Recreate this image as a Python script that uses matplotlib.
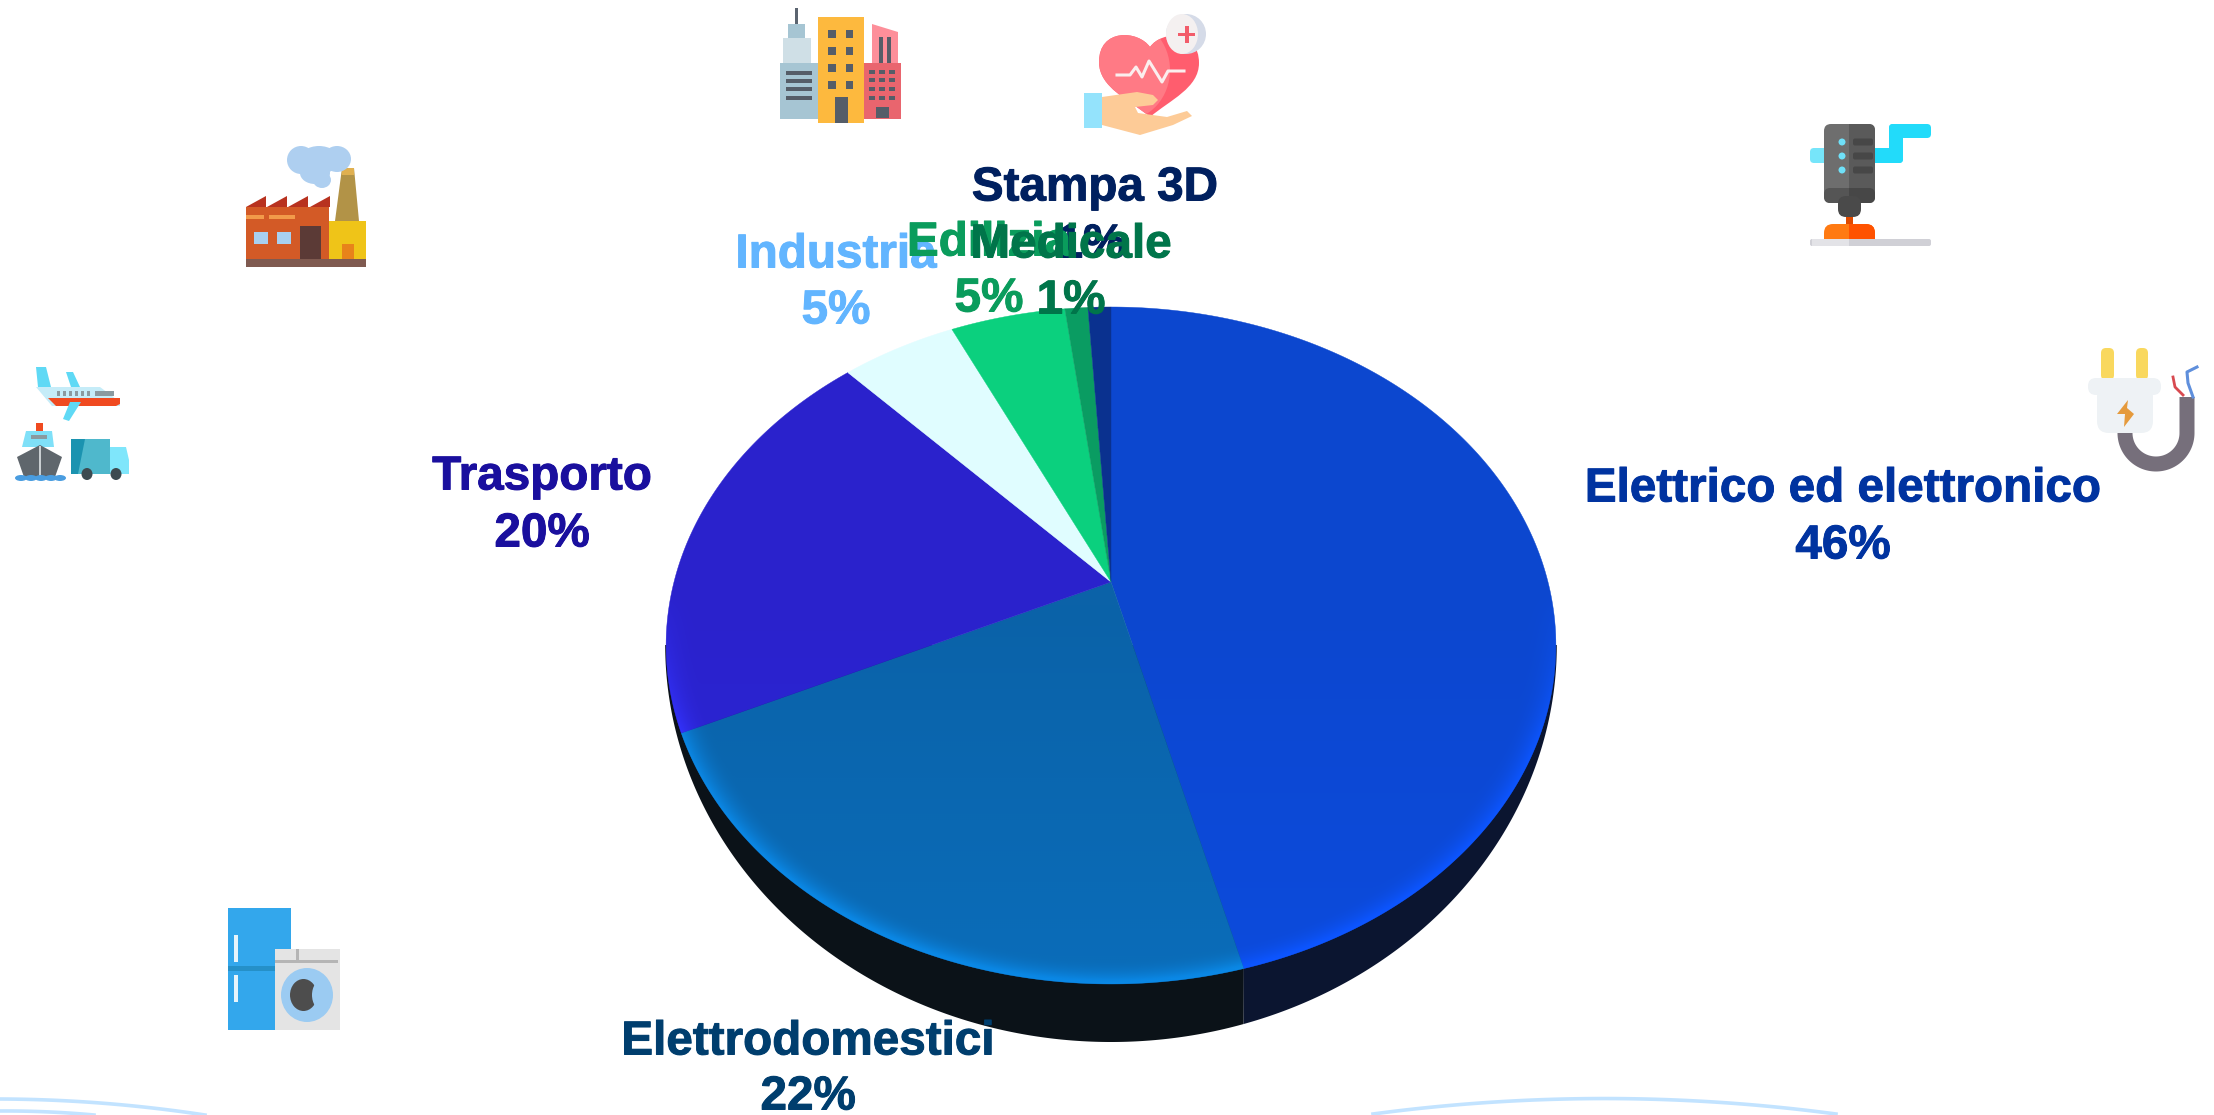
import numpy as np
import matplotlib
matplotlib.use("Agg")
import matplotlib.pyplot as plt
import matplotlib.patheffects as pe
from matplotlib.patches import Polygon, Ellipse, Rectangle, FancyBboxPatch, PathPatch
from matplotlib.path import Path

# data
labels = ["Elettrico ed elettronico", "Elettrodomestici", "Trasporto", "Industria", "Edilizia", "Medicale", "Stampa 3D"]
shares = [46, 22, 20, 5, 5, 1, 1]
slice_colors = ["#0c47cf", "#0b62a8", "#2a22cc", "#e0fdff", "#0bd07e", "#0a9c62", "#0a318f"]
rim_colors = ["#0d55ff", "#0a88e6", "#3333ff", "#e0fdff", "#0bd07e", "#0a9c62", "#0a318f"]
text_colors = ["#0033a0", "#003e6e", "#1a0f9e", "#62b5ff", "#0a9c5c", "#00754a", "#00205f"]

# label anchors, pixels
label_x = [1843, 808, 542, 836, 989, 1071, 1095]
label_y = [484, 1037, 472, 250, 238, 240, 183]
pct_x = [1843, 808, 542, 836, 989, 1071, 1091]
pct_y = [541, 1092, 529, 306, 294, 296, 240]
text_order = [0, 1, 2, 6, 3, 4, 5]

W, H = 2214, 1115
fig = plt.figure(figsize=(W / 100, H / 100), dpi=100)
ax = fig.add_axes([0, 0, 1, 1])
ax.set_xlim(0, W)
ax.set_ylim(H, 0)
ax.axis("off")

# pie geometry: a tilted disc, apex is not at the centre of the ellipse
apex_x, apex_y = 1111, 582
ell_y, ell_a, ell_b = 645, 445, 338
k = 0.1876
c_y = 326.6
c_x = 437.0


def project(u, v):
    w = 1 + k * v
    return apex_x + c_x * u / w, apex_y - c_y * v / w


def wedge_xy(start, stop):
    t = np.linspace(start, stop, 200) * 2 * np.pi
    x, y = project(np.sin(t), np.cos(t))
    return np.column_stack([np.r_[apex_x, x], np.r_[apex_y, y]])


fracs = np.array(shares) / sum(shares)
edges = np.r_[0, np.cumsum(fracs)]

# side wall, split under the edge of the first slice
split_x = project(np.sin(edges[1] * 2 * np.pi), np.cos(edges[1] * 2 * np.pi))[0]
t = np.linspace(0, np.pi, 600)
wall_x = apex_x + 445.8 * np.cos(t)
wall_y = ell_y + 397 * np.sin(t)
right = wall_x >= split_x - 2
left = wall_x <= split_x
ax.fill(np.r_[wall_x[right], split_x - 2, apex_x + 445.8], np.r_[wall_y[right], ell_y, ell_y], color="#0b1530", lw=0, zorder=1)
ax.fill(np.r_[split_x, wall_x[left]], np.r_[ell_y, wall_y[left]], color="#0b1218", lw=0, zorder=1)

# shading on the face
gx, gy = np.meshgrid(np.arange(apex_x - 450, apex_x + 451, 2.0), np.arange(ell_y - 345, ell_y + 345, 2.0))
rho = np.sqrt(((gx - apex_x) / ell_a) ** 2 + ((gy - ell_y) / ell_b) ** 2)
rim = 0.85 * np.clip((rho - 0.93) / 0.07, 0, 1) ** 2 * np.clip((gy - 590) / 150, 0, 1)
soft = 0.3 * np.clip((gy - 600) / 400, 0, 1)
shade = np.clip(rim + soft, 0, 1)
extent = [gx.min() - 1, gx.max() + 1, gy.max() + 1, gy.min() - 1]

for i in range(len(shares)):
    wedge = Polygon(wedge_xy(edges[i], edges[i + 1]), closed=True, facecolor=slice_colors[i], edgecolor=slice_colors[i], lw=0.3, zorder=2)
    ax.add_patch(wedge)
    rgba = np.zeros(gx.shape + (4,))
    rgba[..., :3] = matplotlib.colors.to_rgb(rim_colors[i])
    rgba[..., 3] = shade
    im = ax.imshow(rgba, extent=extent, aspect="auto", zorder=3, interpolation="bilinear")
    im.set_clip_path(wedge)
ax.set_xlim(0, W)
ax.set_ylim(H, 0)

# labels
for i in text_order:
    bold = [pe.withStroke(linewidth=0.7, foreground=text_colors[i])]
    ax.text(label_x[i], label_y[i], labels[i], color=text_colors[i], family="Liberation Sans", weight="bold",
            fontsize=34.3, ha="center", va="center_baseline", zorder=6, path_effects=bold)
    ax.text(pct_x[i], pct_y[i], f"{shares[i]}%", color=text_colors[i], family="Liberation Sans", weight="bold",
            fontsize=34.3, ha="center", va="center_baseline", zorder=6, path_effects=bold)


# icon helpers
def rect(x0, y0, x1, y1, col):
    ax.add_patch(Rectangle((x0, y0), x1 - x0, y1 - y0, facecolor=col, lw=0, zorder=4))


def poly(pts, col):
    ax.add_patch(Polygon(pts, closed=True, facecolor=col, lw=0, zorder=4))


def oval(x, y, rx, ry, col):
    ax.add_patch(Ellipse((x, y), 2 * rx, 2 * ry, facecolor=col, lw=0, zorder=4))


def rrect(x0, y0, x1, y1, r, col):
    ax.add_patch(FancyBboxPatch((x0 + r, y0 + r), x1 - x0 - 2 * r, y1 - y0 - 2 * r,
                                boxstyle=f"round,pad={r},rounding_size={r}", facecolor=col, lw=0, zorder=4))


# buildings
rect(780, 63, 818, 119, "#a6c5d3")
rect(783, 38, 811, 63, "#cfdfe6")
rect(788, 24, 805, 38, "#a6c5d3")
rect(795, 8, 798, 24, "#5b6470")
for y0 in [71, 79, 87, 96]:
    rect(786, y0, 812, y0 + 3.5, "#555d68")
rect(818, 17, 864, 123, "#fdb93e")
for y0 in [30, 47, 64, 81]:
    rect(828, y0, 836, y0 + 8, "#555d68")
    rect(846, y0, 853, y0 + 8, "#555d68")
rect(835, 97, 848, 123, "#555d68")
rect(864, 63, 901, 119, "#e9656e")
poly([(872, 24), (898, 32), (898, 63), (872, 63)], "#fd8f9a")
rect(879, 37, 883, 63, "#555d68")
rect(887, 37, 891, 63, "#555d68")
for y0 in [70, 78, 87, 96]:
    for x0 in [869, 879, 889]:
        rect(x0, y0, x0 + 6, y0 + 3.5, "#555d68")
rect(876, 107, 889, 118, "#555d68")

# factory
rect(246, 207, 329, 259, "#d35a26")
for x0 in [246, 267, 288, 310]:
    poly([(x0, 207), (x0 + 20, 196), (x0 + 20, 207)], "#b8321f")
rect(246, 259, 366, 267, "#7f5a50")
rect(329, 221, 366, 259, "#efc418")
poly([(342, 168), (354, 168), (359, 221), (335, 221)], "#b29347")
rect(342, 168, 354, 175, "#e0b050")
rect(342, 244, 354, 259, "#e8831a")
rect(300, 226, 321, 259, "#5b3a36")
rect(254, 232, 268, 244, "#a8d0f0")
rect(277, 232, 291, 244, "#a8d0f0")
rect(246, 215, 264, 219, "#f29a4a")
rect(269, 215, 295, 219, "#f29a4a")
for x, y, rx, ry in [(301, 160, 14, 14), (337, 159, 14, 13), (319, 160, 20, 14), (315, 173, 15, 11), (322, 180, 9, 8)]:
    oval(x, y, rx, ry, "#aecff0")

# transport
poly([(36, 367), (46, 367), (51, 387), (38, 387)], "#5fd9f5")
poly([(66, 372), (73, 372), (80, 387), (71, 387)], "#5fd9f5")
poly([(36, 387), (100, 387), (120, 402), (120, 406), (52, 406)], "#c5ecf8")
poly([(48, 398), (120, 398), (120, 404), (116, 406), (56, 406)], "#f04a20")
poly([(70, 402), (81, 402), (69, 421), (63, 419)], "#5fd9f5")
for x0 in [57, 63, 69, 75, 81, 87]:
    rect(x0, 391, x0 + 3, 396, "#8a9aa0")
rect(95, 391, 114, 396, "#8a9aa0")
rect(36, 423, 43, 431, "#f04a20")
poly([(26, 431), (52, 431), (54, 447), (22, 447)], "#7fe0f8")
rect(31, 435, 47, 439, "#8a9aa0")
poly([(17, 457), (40, 445), (62, 457), (55, 477), (24, 477)], "#5f666c")
rect(39.3, 446, 40.7, 477, "#c9ced1")
for x in [21, 31, 41, 51, 60]:
    oval(x, 478, 6, 3, "#4a9de0")
rect(71, 439, 110, 474, "#4fb8cc")
poly([(71, 439), (85, 439), (78, 474), (71, 474)], "#1b93b0")
poly([(110, 447), (126, 447), (129, 460), (129, 474), (110, 474)], "#7fe6fb")
oval(87, 474, 5.5, 6, "#3d4a50")
oval(116, 474, 5.5, 6, "#3d4a50")

# appliances
rect(228, 908, 291, 1030, "#33a7ec")
rect(228, 966, 275, 971, "#2590c8")
rect(234, 935, 237.5, 962, "#e8f4fb")
rect(234, 975, 237.5, 1002, "#e8f4fb")
rect(275, 949, 340, 1030, "#e4e4e4")
rect(275, 960, 338, 963, "#b5b5b5")
rect(295.5, 949, 299, 960, "#b5b5b5")
oval(307, 995, 26, 27, "#9bcbf2")
oval(303.5, 995, 13.5, 16, "#4d4d4d")
oval(322, 995, 10, 15, "#9bcbf2")

# 3d printer
rrect(1810, 148, 1835, 163, 4, "#76e5fa")
rrect(1870, 148, 1903, 163, 4, "#22dbfa")
rrect(1889, 124, 1903, 163, 4, "#22dbfa")
rrect(1889, 124, 1931, 138, 4, "#22dbfa")
rrect(1824, 124, 1875, 203, 7, "#6e6e6e")
rect(1849, 124, 1870, 203, "#5a5a5a")
rrect(1850, 124, 1875, 203, 6, "#5a5a5a")
rrect(1824, 188, 1849, 203, 6, "#555555")
rect(1832, 188, 1849, 203, "#555555")
rrect(1849, 188, 1875, 203, 6, "#474747")
rect(1849, 188, 1866, 203, "#474747")
rrect(1838, 196, 1861, 217, 8, "#4a4a4a")
rect(1846, 217, 1853, 225, "#e04a00")
rrect(1824, 224, 1875, 248, 9, "#ff7a12")
rect(1849, 224, 1862, 239, "#ff5200")
rrect(1849, 224, 1875, 248, 9, "#ff5200")
rect(1849, 224, 1860, 239, "#ff5200")
rect(1824, 239, 1875, 248, "white")
rrect(1810, 239, 1931, 246, 2, "#d0d0d6")
rect(1812, 239, 1849, 246, "#e3e3e7")
for y0 in [142, 156, 170]:
    oval(1842, y0, 3.5, 3.5, "#6fe0f8")
    rrect(1853, y0 - 3.5, 1873, y0 + 3.5, 2, "#474747")

# plug
t = np.linspace(np.pi, 0, 60)
cable_x = np.r_[2125, 2156 + 31 * np.cos(t), 2187]
cable_y = np.r_[420, 433 + 31 * np.sin(t), 397]
ax.plot(cable_x, cable_y, color="#766f7b", lw=10.8, solid_capstyle="butt", zorder=4)
ax.plot([2173, 2175, 2183], [377, 387, 395], color="#d84a50", lw=2, zorder=4)
ax.plot([2197, 2187, 2188, 2193], [367, 372, 383, 397], color="#5f8fdc", lw=2.2, zorder=4)
rrect(2101, 348, 2114, 380, 5, "#f9d85e")
rrect(2136, 348, 2148, 380, 5, "#f9d85e")
rrect(2097, 385, 2153, 433, 12, "#eef2f5")
rrect(2088, 378, 2161, 395, 8, "#eef2f5")
poly([(2128, 400), (2117, 414), (2125, 414), (2124, 427), (2134, 414), (2127, 408)], "#e59a3c")

# heart + hand
heart = Path([(1150, 47), (1138, 30), (1099, 28), (1099, 62), (1099, 88), (1130, 100), (1150, 117),
              (1170, 100), (1199, 88), (1199, 63), (1199, 30), (1162, 30), (1150, 47)],
             [Path.MOVETO] + [Path.CURVE4] * 12)
ax.add_patch(PathPatch(heart, facecolor="#ff5d6e", lw=0, zorder=4))
left_half = PathPatch(heart, facecolor="#ff7a85", lw=0, zorder=4)
ax.add_patch(left_half)
clip = Ellipse((1125, 70), 90, 100, transform=ax.transData)
left_half.set_clip_path(clip)
ax.plot([1117, 1130, 1136, 1142, 1149, 1162, 1168, 1184], [75, 75, 67, 77, 61, 82, 71, 71], color="#fbeeee", lw=2.2, zorder=4)
poly([(1102, 97), (1137, 92), (1153, 95), (1158, 100), (1153, 105), (1135, 107), (1138, 113), (1167, 117),
      (1187, 111), (1192, 116), (1173, 125), (1140, 135), (1102, 125)], "#fdcb97")
rect(1084, 93, 1102, 128, "#94e3fc")
oval(1186, 34, 20, 20, "#d5dbe8")
oval(1182, 34, 16, 20, "#f4f0f0")
rect(1178, 32.5, 1195, 36, "#f25c6a")
rect(1185, 26, 1188.5, 43, "#f25c6a")

# bottom waves
wave = "#c2e3ff"
for xs, ys in [([0, 100, 205], [1099, 1103, 1115]), ([0, 50, 94], [1111, 1112, 1115])]:
    p = np.polyfit(xs, ys, 2)
    xx = np.linspace(xs[0], xs[-1], 60)
    ax.plot(xx, np.polyval(p, xx), color=wave, lw=2.6, zorder=0)
p = np.polyfit([1373, 1644, 1836], [1114, 1099, 1114], 2)
xx = np.linspace(1373, 1836, 100)
ax.plot(xx, np.polyval(p, xx), color=wave, lw=2.6, zorder=0)

fig.savefig("out.png", dpi=100, facecolor="white")
